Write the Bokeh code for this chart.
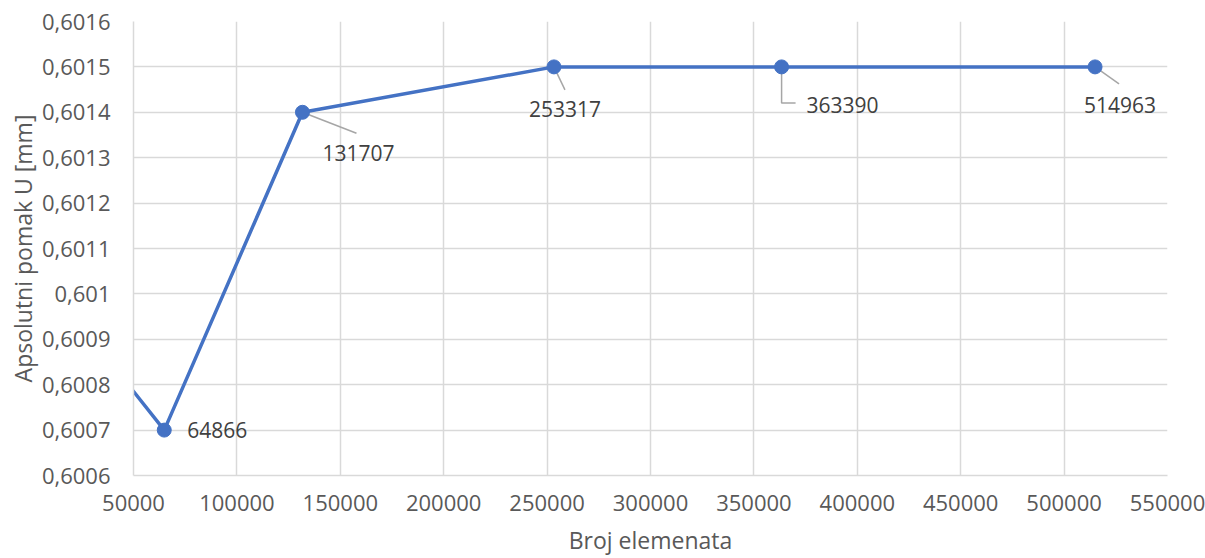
from bokeh.plotting import figure
from bokeh.models import Range1d, FixedTicker, CustomJSTickFormatter, BasicTickFormatter, ColumnDataSource
from bokeh.core.properties import value
from bokeh.embed import file_html
from bokeh.resources import INLINE

# ---- data ----
elements = [30000, 64866, 131707, 253317, 363390, 514963]
displacement = [0.6009, 0.6007, 0.6014, 0.6015, 0.6015, 0.6015]
label_elements = [64866, 131707, 253317, 363390, 514963]
label_values = [0.6007, 0.6014, 0.6015, 0.6015, 0.6015]
label_texts = ["64866", "131707", "253317", "363390", "514963"]
x_ticks = [50000, 100000, 150000, 200000, 250000, 300000, 350000, 400000, 450000, 500000, 550000]
y_ticks = [0.6006, 0.6007, 0.6008, 0.6009, 0.6010, 0.6011, 0.6012, 0.6013, 0.6014, 0.6015, 0.6016]

# ---- layout / style ----
W, H = 1205, 558
BL, BR, BT, BB = 133, 38, 21, 83
FW, FH = W - BL - BR, H - BT - BB
FONT = "Open Sans"
TICK_COL = "#595959"
LINE_COL = "#4472C4"
GRID_COL = "#d9d9d9"

p = figure(width=W, height=H, output_backend="svg", toolbar_location=None,
           x_range=Range1d(x_ticks[0], x_ticks[-1]), y_range=Range1d(y_ticks[0], y_ticks[-1]),
           min_border_left=BL, min_border_right=BR, min_border_top=BT, min_border_bottom=BB)
p.outline_line_color = None
p.background_fill_color = "white"
p.border_fill_color = "white"

for ax in (p.xaxis[0], p.yaxis[0]):
    ax.major_tick_line_color = None
    ax.minor_tick_line_color = None
    ax.major_tick_out = 0
    ax.major_tick_in = 0
    ax.axis_line_color = GRID_COL
    ax.axis_line_width = 1.5
    ax.major_label_text_font = FONT
    ax.major_label_text_font_size = "22px"
    ax.major_label_text_color = TICK_COL
    ax.axis_label_text_font = FONT
    ax.axis_label_text_font_size = "23px"
    ax.axis_label_text_color = TICK_COL
    ax.axis_label_text_font_style = "normal"

p.xaxis.ticker = FixedTicker(ticks=x_ticks)
p.xaxis.formatter = BasicTickFormatter(use_scientific=False)
p.yaxis.ticker = FixedTicker(ticks=y_ticks)
p.yaxis.formatter = CustomJSTickFormatter(code="return tick.toFixed(4).replace(/0+$/, '').replace('.', ',');")
p.xaxis.axis_label = "Broj elemenata"
p.yaxis.axis_label = "Apsolutni pomak U [mm]"
p.xaxis.major_label_standoff = 19
p.yaxis.major_label_standoff = 23
p.xaxis.axis_label_standoff = 10
p.yaxis.axis_label_standoff = 0

p.xgrid.grid_line_color = GRID_COL
p.ygrid.grid_line_color = GRID_COL
p.xgrid.grid_line_width = 1.5
p.ygrid.grid_line_width = 1.5

# leader lines (pixel offsets converted to data units)
ux = (x_ticks[-1] - x_ticks[0]) / FW
uy = (y_ticks[-1] - y_ticks[0]) / FH
leader_px = [None, [(0, 0), (54, 21)], [(0, 0), (11, 23)], [(0, 0), (0, 36), (14, 36)], [(0, 0), (24, 17)]]
lx, ly = [], []
for xv, yv, pts in zip(label_elements, label_values, leader_px):
    if pts is None:
        continue
    lx.append([xv + dx * ux for dx, dy in pts])
    ly.append([yv - dy * uy for dx, dy in pts])
p.multi_line(lx, ly, line_color="#a6a6a6", line_width=1.5)

src = ColumnDataSource(dict(x=elements, y=displacement))
p.line("x", "y", source=src, line_color=LINE_COL, line_width=3.5)
p.scatter("x", "y", source=src, size=14, fill_color=LINE_COL, line_color=LINE_COL)

lsrc = ColumnDataSource(dict(x=label_elements, y=label_values, t=label_texts,
                             dx=[23, 56, 11, 61, 25], dy=[0, 41, 42, 38, 38],
                             al=["left", "center", "center", "center", "center"]))
p.text("x", "y", text="t", source=lsrc, x_offset="dx", y_offset="dy", text_align="al",
       text_baseline="middle", text_font=value(FONT), text_font_size="21px", text_color="#404040")

open("out.html", "w").write(file_html(p, INLINE))
